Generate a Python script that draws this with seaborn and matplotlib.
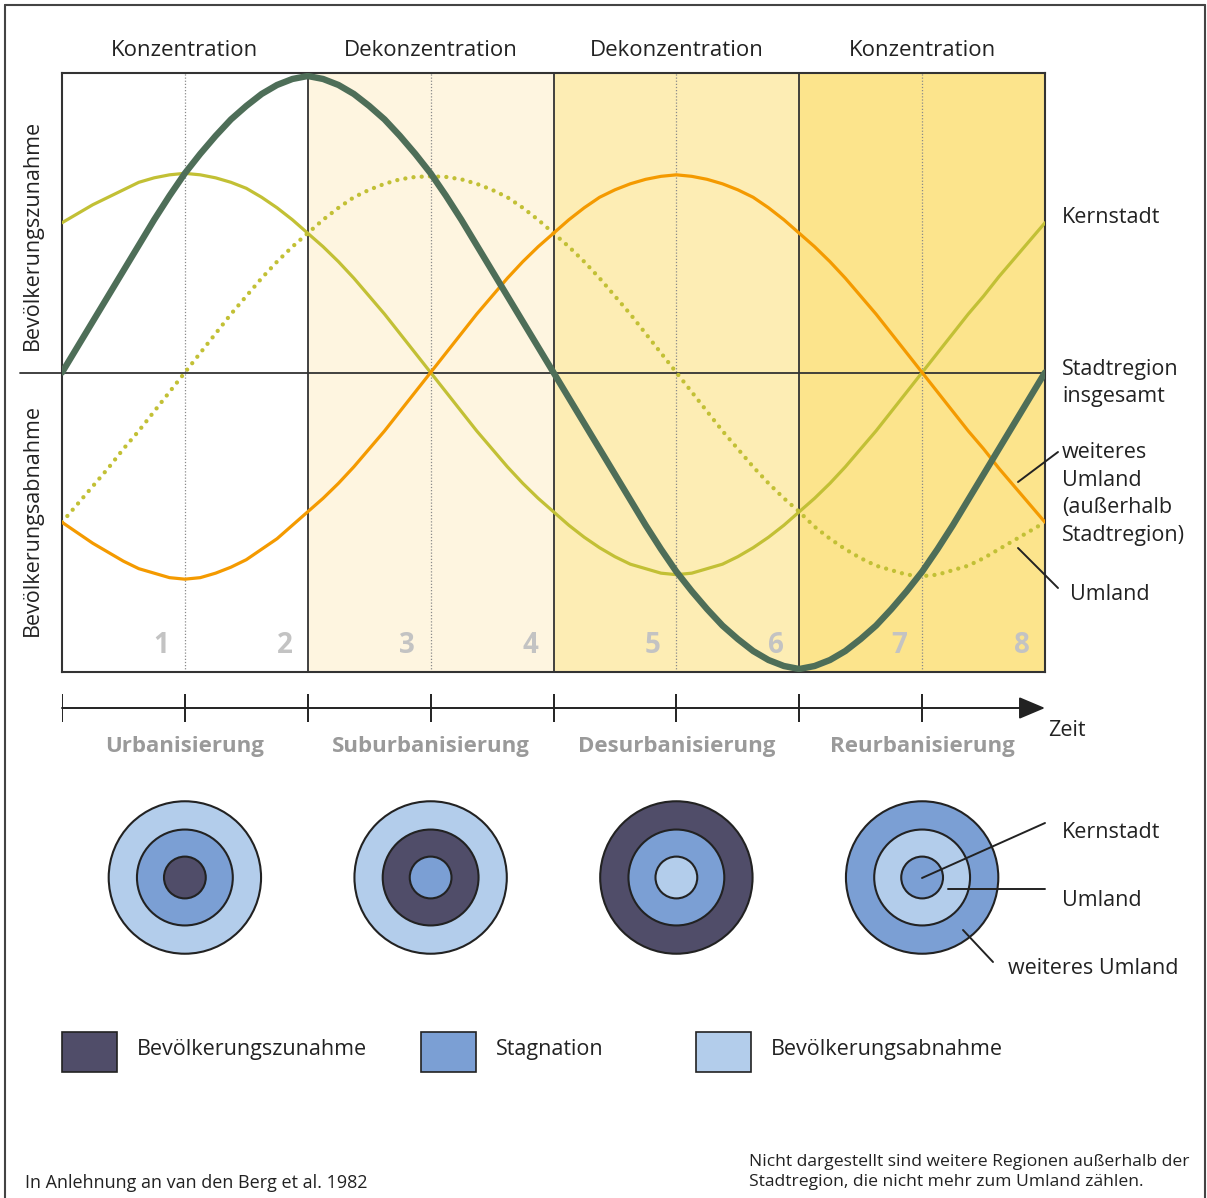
import numpy as np
import pandas as pd
import matplotlib.pyplot as plt
import seaborn as sns
from matplotlib.patches import Circle, Rectangle
from matplotlib.lines import Line2D

# Werte (Nulllinie = 0, Rahmen oben = 1, unten = -1),
# alle 1/8 Phase
zeit = np.arange(0, 8.001, 0.125)

stadtregion = [0.00, 0.085, 0.17, 0.255, 0.34, 0.425, 0.51, 0.59,
               0.665, 0.73, 0.79, 0.845, 0.89, 0.93, 0.96, 0.98,
               0.99, 0.98, 0.96, 0.93, 0.89, 0.845, 0.79, 0.73,
               0.665, 0.59, 0.51, 0.425, 0.34, 0.255, 0.17, 0.085,
               0.00, -0.085, -0.17, -0.255, -0.34, -0.425, -0.51, -0.59,
               -0.665, -0.73, -0.79, -0.845, -0.89, -0.93, -0.96, -0.98,
               -0.99, -0.98, -0.96, -0.93, -0.89, -0.845, -0.79, -0.73,
               -0.665, -0.59, -0.51, -0.425, -0.34, -0.255, -0.17, -0.085,
               0.00]
kernstadt = [0.50, 0.53, 0.56, 0.585, 0.61, 0.635, 0.65, 0.66,
             0.665, 0.66, 0.65, 0.635, 0.615, 0.585, 0.55, 0.51,
             0.465, 0.42, 0.37, 0.315, 0.255, 0.195, 0.13, 0.065,
             0.00, -0.065, -0.13, -0.195, -0.255, -0.315, -0.37, -0.42,
             -0.465, -0.51, -0.55, -0.585, -0.615, -0.64, -0.655, -0.67,
             -0.675, -0.67, -0.655, -0.64, -0.615, -0.585, -0.55, -0.51,
             -0.465, -0.42, -0.37, -0.315, -0.255, -0.195, -0.13, -0.065,
             0.00, 0.065, 0.13, 0.195, 0.255, 0.32, 0.38, 0.44,
             0.50]
umland = [-0.50, -0.44, -0.38, -0.32, -0.255, -0.195, -0.13, -0.065,
          0.00, 0.065, 0.13, 0.195, 0.255, 0.315, 0.37, 0.42,
          0.465, 0.51, 0.55, 0.585, 0.61, 0.63, 0.645, 0.653,
          0.655, 0.653, 0.645, 0.63, 0.61, 0.585, 0.55, 0.51,
          0.465, 0.42, 0.37, 0.315, 0.255, 0.195, 0.13, 0.065,
          0.00, -0.065, -0.13, -0.195, -0.255, -0.315, -0.37, -0.42,
          -0.465, -0.515, -0.555, -0.59, -0.62, -0.645, -0.66, -0.675,
          -0.68, -0.675, -0.66, -0.645, -0.62, -0.59, -0.56, -0.53,
          -0.50]
weiteres_umland = [-0.50, -0.535, -0.57, -0.60, -0.63, -0.655, -0.67, -0.685,
                   -0.69, -0.685, -0.67, -0.65, -0.625, -0.59, -0.555, -0.51,
                   -0.465, -0.42, -0.37, -0.315, -0.255, -0.195, -0.13, -0.065,
                   0.00, 0.065, 0.13, 0.195, 0.255, 0.315, 0.37, 0.42,
                   0.465, 0.51, 0.55, 0.585, 0.61, 0.63, 0.645, 0.655,
                   0.66, 0.655, 0.645, 0.63, 0.61, 0.585, 0.55, 0.51,
                   0.465, 0.42, 0.37, 0.315, 0.255, 0.195, 0.13, 0.065,
                   0.00, -0.065, -0.13, -0.195, -0.255, -0.32, -0.38, -0.44,
                   -0.50]

phasen = ["Urbanisierung", "Suburbanisierung", "Desurbanisierung", "Reurbanisierung"]
phasen_oben = ["Konzentration", "Dekonzentration", "Dekonzentration", "Konzentration"]
phasen_start = [0, 2, 4, 6]
stufen = [1, 2, 3, 4, 5, 6, 7, 8]

# Zustand der Ringe je Phase
kern_zustand = ["Zunahme", "Stagnation", "Abnahme", "Stagnation"]
umland_zustand = ["Stagnation", "Zunahme", "Stagnation", "Abnahme"]
weiter_zustand = ["Abnahme", "Abnahme", "Zunahme", "Stagnation"]

legende = ["Bevölkerungszunahme", "Stagnation", "Bevölkerungsabnahme"]
zustand_farbe = {"Zunahme": "#504d69", "Stagnation": "#7b9fd4", "Abnahme": "#b3cdeb"}
hintergrund = ["#ffffff", "#fef5e0", "#fdedb4", "#fce48c"]

W, H = 1207, 1198
def fx(px): return px / W
def fy(py): return 1 - py / H

sns.set_theme(style="white")
plt.rcParams["font.family"] = ["Open Sans", "DejaVu Sans"]
TXT = "#222222"

fig = plt.figure(figsize=(W / 100, H / 100), dpi=100)
ax = fig.add_axes([fx(62), fy(672), (1045 - 62) / W, (672 - 73) / H])
ax.set_xlim(0, 8)
ax.set_ylim(-1, 1)

for s, farbe in zip(phasen_start, hintergrund):
    ax.axvspan(s, s + 2, color=farbe, lw=0, zorder=0)
for s in phasen_start[1:]:
    ax.axvline(s, color="#333333", lw=1.3, zorder=1)
for s in phasen_start:
    ax.axvline(s + 1, color="#8a8a8a", lw=0.9, ls=(0, (1, 1.5)), zorder=1)
ax.axhline(0, xmin=-0.043, xmax=1, color="#333333", lw=1.3, clip_on=False, zorder=1)

sns.lineplot(x=zeit, y=kernstadt, ax=ax, color="#c2c035", linewidth=2.3, zorder=3)
sns.lineplot(x=zeit, y=umland, ax=ax, color="#c2c035", linewidth=3.1,
             linestyle=(0, (0.01, 1.9)), dash_capstyle="round", zorder=3)
sns.lineplot(x=zeit, y=weiteres_umland, ax=ax, color="#f49a00", linewidth=2.3, zorder=4)
sns.lineplot(x=zeit, y=stadtregion, ax=ax, color="#4e6e58", linewidth=4.6, zorder=5,
             solid_joinstyle="round")

for n in stufen:
    ax.text(n - 0.19, -0.91, str(n), ha="center", va="center", fontsize=20,
            fontweight="bold", color="#c3c3c3", zorder=2)

for s, name in zip(phasen_start, phasen_oben):
    ax.annotate(name, xy=(s + 1, 1), xycoords=("data", "axes fraction"),
                xytext=(0, 16.5), textcoords="offset points", ha="center", va="center",
                fontsize=16, color=TXT, annotation_clip=False)

ax.set_xticks([])
ax.set_yticks([])
ax.set_xlabel("")
ax.set_ylabel("")
for sp in ax.spines.values():
    sp.set_color("#333333")
    sp.set_linewidth(1.5)

fig.text(fx(32), fy(235), "Bevölkerungszunahme", rotation=90, ha="center", va="center",
         fontsize=15.5, color=TXT)
fig.text(fx(32), fy(520), "Bevölkerungsabnahme", rotation=90, ha="center", va="center",
         fontsize=15.5, color=TXT)

# Beschriftung rechts
fig.text(fx(1062), fy(218), "Kernstadt", va="center", fontsize=15.5, color=TXT)
fig.text(fx(1062), fy(383), "Stadtregion\ninsgesamt", va="center", fontsize=15.5,
         color=TXT, linespacing=1.4)
fig.text(fx(1062), fy(494), "weiteres\nUmland\n(außerhalb\nStadtregion)", va="center",
         fontsize=15.5, color=TXT, linespacing=1.4)
fig.text(fx(1070), fy(595), "Umland", va="center", fontsize=15.5, color=TXT)
for (x0, y0), (x1, y1) in [((1058, 452), (1018, 482)), ((1018, 548), (1058, 588))]:
    fig.add_artist(Line2D([fx(x0), fx(x1)], [fy(y0), fy(y1)], transform=fig.transFigure,
                          color=TXT, lw=1.4))

# Zeitachse
tax = fig.add_axes([fx(62), fy(722), (1045 - 62) / W, 28 / H])
tax.set_xlim(0, 8)
tax.set_ylim(-1, 1)
tax.axis("off")
tax.vlines(phasen_start + [s + 1 for s in phasen_start], -1, 1, color=TXT, lw=1.4)
tax.annotate("", xy=(8, 0), xytext=(0, 0), annotation_clip=False,
             arrowprops=dict(arrowstyle="-|>,head_length=0.9,head_width=0.38", color=TXT,
                             lw=1.4, shrinkA=0, shrinkB=0, mutation_scale=18))
for s, name in zip(phasen_start, phasen):
    tax.annotate(name, xy=(s + 1, 0), xytext=(0, -27.5), textcoords="offset points",
                 ha="center", va="center", fontsize=16, fontweight="bold", color="#9a9a9a",
                 annotation_clip=False)
fig.text(fx(1048), fy(731), "Zeit", va="center", fontsize=15.5, color=TXT)

# Ringdiagramme
cax = fig.add_axes([fx(62), fy(960), (1045 - 62) / W, 165 / H])
cax.set_xlim(0, 8)
cax.set_ylim(-0.671, 0.671)
cax.axis("off")
radien = [0.62, 0.39, 0.17]
for i, s in enumerate(phasen_start):
    for r, z in zip(radien, [weiter_zustand[i], umland_zustand[i], kern_zustand[i]]):
        cax.add_patch(Circle((s + 1, 0), r, facecolor=zustand_farbe[z], edgecolor=TXT, lw=1.5))

for (x0, y0), (x1, y1) in [((922, 878), (1045, 823)), ((948, 889), (1045, 889)),
                           ((963, 930), (993, 962))]:
    fig.add_artist(Line2D([fx(x0), fx(x1)], [fy(y0), fy(y1)], transform=fig.transFigure,
                          color=TXT, lw=1.4))
fig.text(fx(1062), fy(832), "Kernstadt", va="center", fontsize=15.5, color=TXT)
fig.text(fx(1062), fy(900), "Umland", va="center", fontsize=15.5, color=TXT)
fig.text(fx(1008), fy(968), "weiteres Umland", va="center", fontsize=15.5, color=TXT)

# Legende
for x0, name, z in zip([62, 421, 696], legende, ["Zunahme", "Stagnation", "Abnahme"]):
    fig.add_artist(Rectangle((fx(x0), fy(1072)), 55 / W, 40 / H, transform=fig.transFigure,
                             facecolor=zustand_farbe[z], edgecolor=TXT, lw=1.2))
    fig.text(fx(x0 + 75), fy(1050), name, va="center", fontsize=15.5, color=TXT)

fig.text(fx(25), fy(1183), "In Anlehnung an van den Berg et al. 1982", va="center",
         fontsize=13, color=TXT)
fig.text(fx(749), fy(1172), "Nicht dargestellt sind weitere Regionen außerhalb der\n"
         "Stadtregion, die nicht mehr zum Umland zählen.", va="center", fontsize=12.6,
         color=TXT, linespacing=1.25)

# Rahmen
for xs, ys in [([5, 5], [5, 1198]), ([5, 1205], [5, 5]), ([1205, 1205], [5, 1198])]:
    fig.add_artist(Line2D([fx(x) for x in xs], [fy(y) for y in ys], transform=fig.transFigure,
                          color="#444444", lw=1.5))

fig.savefig("out.png", dpi=100, facecolor="white")
